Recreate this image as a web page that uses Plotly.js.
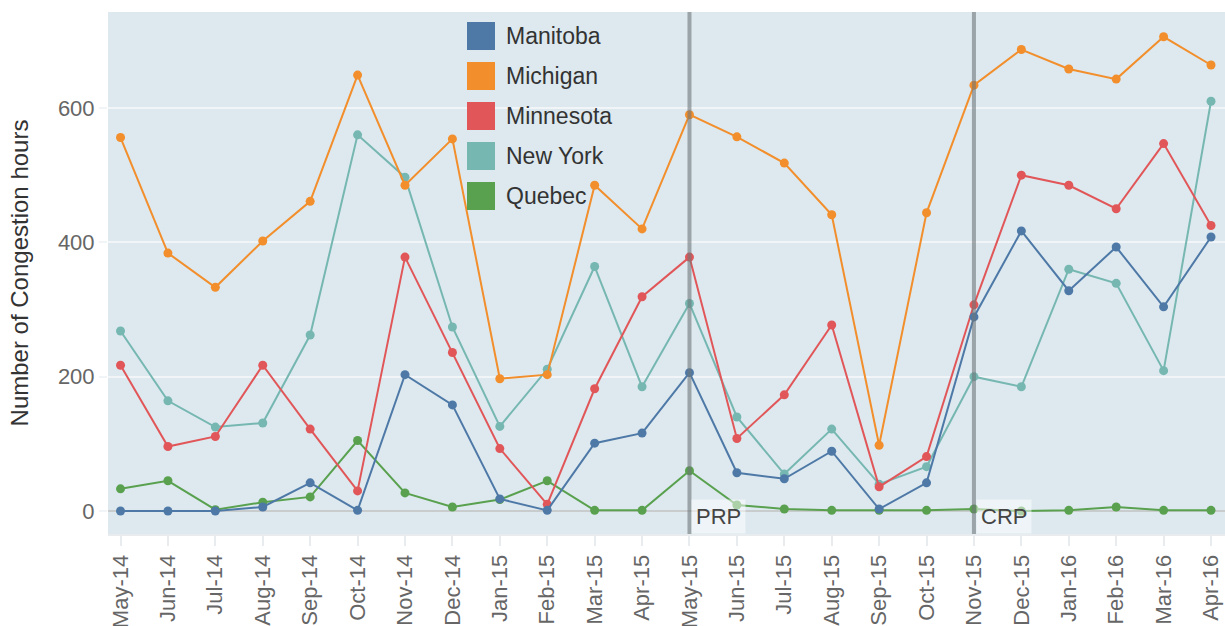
<!DOCTYPE html>
<html>
<head>
<meta charset="utf-8">
<script src="https://cdn.plot.ly/plotly-3.0.1.min.js"></script>
<style>
  html, body { margin: 0; padding: 0; background: #ffffff; }
  #chart { width: 1225px; height: 626px; }
</style>
</head>
<body>
<div id="chart"></div>
<script>
// ---- data ----
const months = ["May-14","Jun-14","Jul-14","Aug-14","Sep-14","Oct-14","Nov-14","Dec-14",
  "Jan-15","Feb-15","Mar-15","Apr-15","May-15","Jun-15","Jul-15","Aug-15","Sep-15","Oct-15",
  "Nov-15","Dec-15","Jan-16","Feb-16","Mar-16","Apr-16"];

const seriesNames = ["Manitoba","Michigan","Minnesota","New York","Quebec"];
const seriesColors = ["#4e79a7","#f28e2b","#e15759","#76b7b2","#59a14f"];

const manitoba  = [0, 0, 0, 6, 42, 1, 203, 158, 18, 1, 101, 116, 206, 57, 48, 89, 3, 42, 289, 417, 328, 393, 304, 408];
const michigan  = [556, 384, 333, 402, 461, 649, 485, 554, 197, 203, 485, 420, 590, 557, 518, 441, 98, 444, 634, 687, 658, 643, 706, 664];
const minnesota = [217, 96, 111, 217, 122, 30, 378, 236, 93, 10, 182, 319, 378, 108, 173, 277, 36, 81, 307, 500, 485, 450, 547, 425];
const newYork   = [268, 164, 125, 131, 262, 560, 497, 274, 126, 211, 364, 185, 309, 140, 55, 122, 40, 66, 200, 185, 360, 339, 209, 610];
const quebec    = [33, 45, 2, 13, 21, 105, 27, 6, 17, 45, 1, 1, 60, 9, 3, 1, 1, 1, 3, 0, 1, 6, 1, 1];

const markerEvents = ["May-15", "Nov-15"];
const markerLabels = ["PRP", "CRP"];

const yTicks = [0, 200, 400, 600];

// ---- build ----
const seriesValues = [manitoba, michigan, minnesota, newYork, quebec];
// drawing order (bottom -> top)
const drawOrder = [4, 3, 2, 1, 0];

const traces = drawOrder.map(i => ({
  type: "scatter",
  mode: "lines+markers",
  name: seriesNames[i],
  x: months,
  y: seriesValues[i],
  line: { color: seriesColors[i], width: 2 },
  marker: { color: seriesColors[i], size: 9 },
  showlegend: false,
  hoverinfo: "x+y+name"
}));

// plot geometry in pixels (for paper conversion of legend)
const W = 1225, H = 626;
const M = { l: 108, r: 0, t: 12, b: 92 };
const pw = W - M.l - M.r, ph = H - M.t - M.b;
const px = x => (x - M.l) / pw;
const py = y => (H - M.b - y) / ph;

const shapes = [];
const annotations = [];

// event lines and labels
markerEvents.forEach((m, k) => {
  const idx = months.indexOf(m);
  shapes.push({
    type: "line", layer: "above", xref: "x", yref: "paper",
    x0: idx, x1: idx, y0: 0, y1: 1,
    line: { color: "rgba(110,118,122,0.6)", width: 4 }
  });
  annotations.push({
    xref: "x", yref: "paper", x: idx, y: 0,
    xanchor: "left", yanchor: "bottom", xshift: 2, yshift: 0,
    text: markerLabels[k], showarrow: false,
    font: { family: "Liberation Sans, Arial, sans-serif", size: 22, color: "#444444" },
    bgcolor: "rgba(255,255,255,0.5)", borderpad: 4
  });
});

// custom legend (large square swatches)
seriesNames.forEach((name, i) => {
  const top = 22 + i * 40;
  shapes.push({
    type: "rect", layer: "above", xref: "paper", yref: "paper",
    x0: px(467), x1: px(495), y0: py(top + 28), y1: py(top),
    fillcolor: seriesColors[i], line: { width: 0 }
  });
  annotations.push({
    xref: "paper", yref: "paper", x: px(504), y: py(top + 14),
    xanchor: "left", yanchor: "middle", showarrow: false,
    text: name,
    font: { family: "Liberation Sans, Arial, sans-serif", size: 23, color: "#333333" }
  });
});

const layout = {
  width: W, height: H,
  margin: M,
  paper_bgcolor: "#ffffff",
  plot_bgcolor: "#dde9ef",
  showlegend: false,
  font: { family: "Liberation Sans, Arial, sans-serif", size: 22, color: "#666666" },
  xaxis: {
    type: "category",
    range: [-0.264, 23.295],
    tickangle: -90,
    tickfont: { size: 22, color: "#666666" },
    showgrid: false,
    zeroline: false,
    showline: true, linecolor: "#e8ecee", linewidth: 2,
    ticks: "outside", ticklen: 10, tickwidth: 2, tickcolor: "#e8ecee",
    fixedrange: true
  },
  yaxis: {
    range: [-34.2, 742.9],
    tickvals: yTicks,
    ticktext: yTicks.map(String),
    tickfont: { size: 22, color: "#666666" },
    showgrid: true, gridcolor: "#f2f5f7", gridwidth: 2,
    zeroline: true, zerolinecolor: "#c9cccd", zerolinewidth: 2,
    showline: false,
    ticks: "outside", ticklen: 8, tickwidth: 2, tickcolor: "#f2f5f7",
    title: { text: "Number of Congestion hours", font: { size: 24, color: "#333333" }, standoff: 22 },
    fixedrange: true
  },
  shapes: shapes,
  annotations: annotations
};

Plotly.newPlot("chart", traces, layout, { displayModeBar: false, staticPlot: true });
</script>
</body>
</html>
